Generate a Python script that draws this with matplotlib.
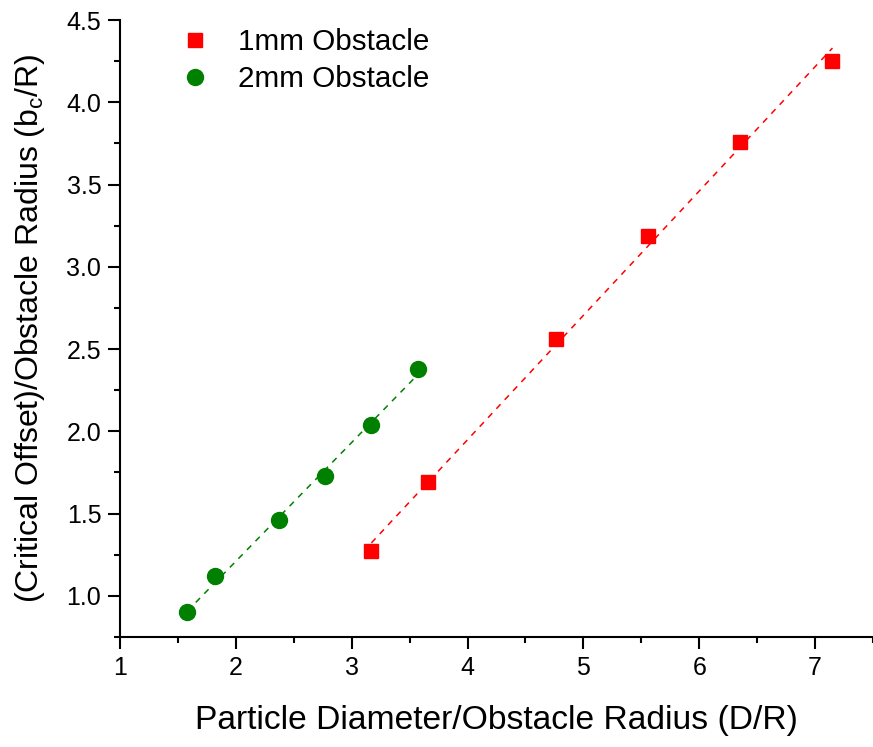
import numpy as np
import matplotlib
matplotlib.use('Agg')
import matplotlib.pyplot as plt
from matplotlib.ticker import MultipleLocator

plt.rcParams['font.family'] = ['Liberation Sans', 'DejaVu Sans']
plt.rcParams['mathtext.fontset'] = 'custom'
plt.rcParams['mathtext.rm'] = 'Liberation Sans'
plt.rcParams['mathtext.it'] = 'Liberation Sans:italic'

# 1mm obstacle
x_1mm = [3.17, 3.66, 4.76, 5.56, 6.35, 7.15]
y_1mm = [1.27, 1.69, 2.56, 3.19, 3.76, 4.25]

# 2mm obstacle
x_2mm = [1.58, 1.82, 2.37, 2.77, 3.17, 3.57]
y_2mm = [0.90, 1.12, 1.46, 1.73, 2.04, 2.38]

fig = plt.figure(figsize=(8.73, 7.47), dpi=100)
ax = fig.add_axes([0.1375, 0.1473, 0.8625, 0.8259])

# linear fits
for xs, ys, c in [(x_1mm, y_1mm, 'red'), (x_2mm, y_2mm, 'green')]:
    k, b = np.polyfit(xs, ys, 1)
    xf = np.array([min(xs), max(xs)])
    ax.plot(xf, k * xf + b, '--', color=c, lw=1.1, dashes=(4, 4))

ax.plot(x_1mm, y_1mm, 's', color='red', ms=10, label='1mm Obstacle')
ax.plot(x_2mm, y_2mm, 'o', color='green', ms=11.5, label='2mm Obstacle')

ax.set_xlim(1, 7.5)
ax.set_ylim(0.75, 4.5)
ax.xaxis.set_major_locator(MultipleLocator(1))
ax.xaxis.set_minor_locator(MultipleLocator(0.5))
ax.yaxis.set_major_locator(MultipleLocator(0.5))
ax.yaxis.set_minor_locator(MultipleLocator(0.25))
ax.yaxis.set_major_formatter(matplotlib.ticker.FormatStrFormatter('%.1f'))

for s in ['top', 'right']:
    ax.spines[s].set_visible(False)
for s in ['left', 'bottom']:
    ax.spines[s].set_linewidth(1.5)

ax.tick_params(which='major', direction='out', length=8.5, width=1.5, labelsize=18, pad=5)
ax.tick_params(which='minor', direction='out', length=4.5, width=1.5)

ax.set_xlabel('Particle Diameter/Obstacle Radius (D/R)', fontsize=24.2, labelpad=18)
ax.set_ylabel('(Critical Offset)/Obstacle Radius (b$_{\\mathrm{c}}$/R)', fontsize=23, labelpad=14)

ax.legend(loc='upper left', bbox_to_anchor=(0.025, 1.03), frameon=False, fontsize=21.3,
          handletextpad=0.45, labelspacing=0.3, numpoints=1)

fig.savefig('out.png', dpi=100)
